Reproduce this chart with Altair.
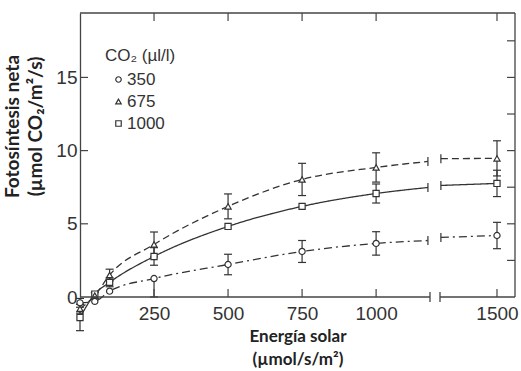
import altair as alt
import pandas as pd

# ---- data ----
x_vals = [0, 50, 100, 250, 500, 750, 1000, 1500]
series = ["350", "675", "1000"]
shapes = ["circle", "triangle-up", "square"]
y_350 = [-0.4, -0.3, 0.4, 1.26, 2.22, 3.11, 3.66, 4.2]
y_675 = [-0.8, 0.1, 1.5, 3.59, 6.19, 8.03, 8.85, 9.47]
y_1000 = [-1.4, 0.2, 1.0, 2.77, 4.82, 6.19, 7.07, 7.76]
elo_350 = [0.3, 0, 0, 1.26, 0.7, 0.75, 0.8, 0.9]
ehi_350 = [0.3, 0, 0, 0, 0.7, 0.75, 0.8, 0.9]
e_675 = [0.3, 0.2, 0.4, 0.85, 0.85, 1.1, 1.0, 1.2]
e_1000 = [0.9, 0, 0.3, 0.6, 0, 0, 0.65, 0.9]

line_break_x = [1175, 1310]          # line ends either side of the axis break
break_pre = [3.86, 9.26, 7.48]       # line value just before the break
break_post = [4.07, 9.45, 7.62]      # line value just after the break

x_ticks = [250, 500, 750, 1000, 1500]
y_ticks = [0, 5, 10, 15]
y_right_ticks = [2.5, 5, 7.5, 10, 12.5, 15, 17.5]
axis_break = [1182, 1307]
x_domain = [0, 1182, 1307, 1561]
y_domain = [0, 19.4]

W, H = 435, 284
INK = "#333333"
dashes = {"350": [8, 4, 2, 4], "675": [7, 4], "1000": [1, 0]}

ys = [y_350, y_675, y_1000]
elo = [elo_350, e_675, e_1000]
ehi = [ehi_350, e_675, e_1000]

# ---- tables ----
line_rows, pt_rows, err_rows, cap_rows, brk_rows = [], [], [], [], []
for i, s in enumerate(series):
    y = ys[i]
    for xv, yv in zip(x_vals[:-1] + [line_break_x[0]], y[:-1] + [break_pre[i]]):
        line_rows.append({"series": s, "seg": "a", "x": xv, "y": yv})
    for xv, yv in zip([line_break_x[1], x_vals[-1]], [break_post[i], y[-1]]):
        line_rows.append({"series": s, "seg": "b", "x": xv, "y": yv})
    brk_rows.append({"series": s, "x": line_break_x[0], "y": break_pre[i]})
    brk_rows.append({"series": s, "x": line_break_x[1], "y": break_post[i]})
    for j, xv in enumerate(x_vals):
        pt_rows.append({"series": s, "x": xv, "y": y[j]})
        lo, hi = elo[i][j], ehi[i][j]
        if lo > 0 or hi > 0:
            err_rows.append({"series": s, "x": xv, "lo": y[j] - lo, "hi": y[j] + hi})
        if lo > 0:
            cap_rows.append({"x": xv, "y": y[j] - lo})
        if hi > 0:
            cap_rows.append({"x": xv, "y": y[j] + hi})

lines_df = pd.DataFrame(line_rows)
pts_df = pd.DataFrame(pt_rows)
err_df = pd.DataFrame(err_rows)
cap_df = pd.DataFrame(cap_rows)
brk_df = pd.DataFrame(brk_rows)

xscale = alt.Scale(domain=x_domain, range=[0, 350, 360, W], nice=False, zero=False)
yscale = alt.Scale(domain=y_domain, nice=False, zero=False)

x_axis = alt.Axis(values=x_ticks, format="d", domain=False, ticks=False, grid=False,
                  labelPadding=7, title=["Energía solar", "(µmol/s/m²)"],
                  titleLineHeight=23, titlePadding=5)
y_axis = alt.Axis(values=y_ticks, format="d", domain=True, ticks=False, grid=False,
                  labelPadding=3, title=["Fotosíntesis neta", "(µmol CO₂/m²/s)"],
                  titleFontSize=19, titleLineHeight=23, titleX=-58, titleY=113)

line_layers = []
for k, s in enumerate(series):
    enc = dict(x=alt.X("x:Q", scale=xscale), y=alt.Y("y:Q", scale=yscale), detail="seg:N")
    if k == 0:
        enc = dict(x=alt.X("x:Q", scale=xscale, axis=x_axis),
                   y=alt.Y("y:Q", scale=yscale, axis=y_axis), detail="seg:N")
    line_layers.append(
        alt.Chart(lines_df).transform_filter(alt.datum.series == s)
        .mark_line(interpolate="monotone", color=INK, strokeWidth=1.3, strokeDash=dashes[s])
        .encode(**enc)
    )

errs = alt.Chart(err_df).mark_rule(color=INK, strokeWidth=1.2).encode(
    x="x:Q", y="lo:Q", y2="hi:Q")
caps = alt.Chart(cap_df).mark_tick(orient="horizontal", size=8, thickness=1.2, color=INK, opacity=1).encode(
    x="x:Q", y="y:Q")
brk = alt.Chart(brk_df).mark_tick(orient="vertical", size=9, thickness=1.2, color=INK, opacity=1).encode(
    x="x:Q", y="y:Q")

# white interiors under the open markers
under = [
    alt.Chart(pts_df).transform_filter(alt.datum.series == s)
    .mark_point(filled=True, color="white", opacity=1, size=38, shape=shapes[k])
    .encode(x="x:Q", y="y:Q")
    for k, s in enumerate(series)
]

points = alt.Chart(pts_df).mark_point(filled=False, size=38, strokeWidth=1.2, color=INK,
                                      opacity=1).encode(
    x="x:Q", y="y:Q",
    shape=alt.Shape("series:N",
                    scale=alt.Scale(domain=series, range=shapes),
                    legend=alt.Legend(title="CO₂ (µl/l)", orient="none", legendX=25, legendY=35,
                                      symbolSize=30, symbolStrokeWidth=1.2,
                                      symbolOffset=5, labelOffset=0)),
)

one = pd.DataFrame({"a": [0]})
frame_top = alt.Chart(one).mark_rule(color="#444", strokeWidth=1.3).encode(
    x=alt.value(0), x2=alt.value(W), y=alt.value(0))
frame_right = alt.Chart(one).mark_rule(color="#444", strokeWidth=1.3).encode(
    x=alt.value(W), y=alt.value(0), y2=alt.value(H))

bottom_df = pd.DataFrame({"x": [x_domain[0], axis_break[1]], "x2": [axis_break[0], x_domain[-1]]})
bottom = alt.Chart(bottom_df).mark_rule(color="#444", strokeWidth=1.3).encode(
    x="x:Q", x2="x2:Q", y=alt.value(H))
axbrk = alt.Chart(pd.DataFrame({"x": axis_break})).mark_rule(color="#444", strokeWidth=1.3).encode(
    x="x:Q", y=alt.value(H - 5), y2=alt.value(H + 5))

xt_df = pd.DataFrame({"x": x_ticks})
bt = alt.Chart(xt_df).mark_rule(color="#444", strokeWidth=1.2).encode(
    x="x:Q", y=alt.value(H), y2=alt.value(H - 8))
tt = alt.Chart(xt_df).mark_rule(color="#444", strokeWidth=1.2).encode(
    x="x:Q", y=alt.value(0), y2=alt.value(8))
lt = alt.Chart(pd.DataFrame({"y": y_ticks[1:]})).mark_rule(color="#444", strokeWidth=1.2).encode(
    y="y:Q", x=alt.value(0), x2=alt.value(8))
rt = alt.Chart(pd.DataFrame({"y": y_right_ticks})).mark_rule(color="#444", strokeWidth=1.2).encode(
    y="y:Q", x=alt.value(W), x2=alt.value(W - 8))

chart = alt.layer(*line_layers, errs, caps, brk, *under, points, frame_top, frame_right, bottom,
                  axbrk, bt, tt, lt, rt).properties(
    width=W, height=H,
    autosize=alt.AutoSizeParams(type="none"),
    padding={"left": 80, "top": 13, "right": 6, "bottom": 74},
    background="white",
).configure_view(stroke=None).configure_axis(
    labelFont="Liberation Sans", labelFontSize=19, labelColor=INK,
    titleFont="Lato", titleFontSize=17, titleFontWeight="bold", titleColor="#222",
    domainColor="#444", domainWidth=1.3,
).configure_legend(
    titleFont="Liberation Sans", titleFontSize=17, titleFontWeight="normal", titleColor=INK,
    labelFont="Liberation Sans", labelFontSize=17, labelColor=INK,
    rowPadding=4, titlePadding=6,
)

chart.save("out.html", embed_options={"renderer": "svg", "actions": False})
